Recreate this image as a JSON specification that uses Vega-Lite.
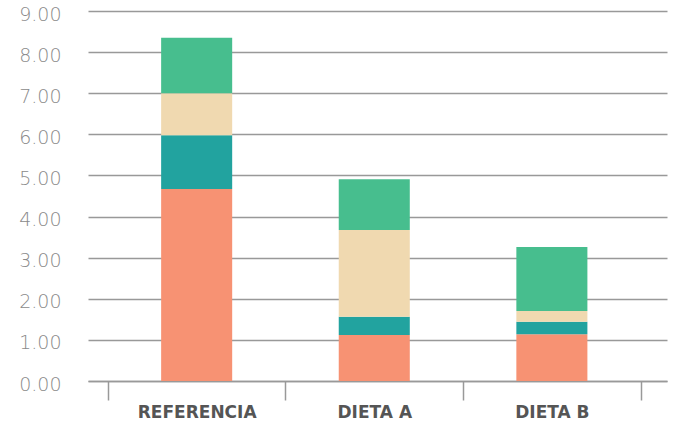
{
  "$schema": "https://vega.github.io/schema/vega-lite/v6.json",
  "autosize": "none",
  "width": 579,
  "height": 370,
  "padding": {"left": 88, "top": 11, "right": 11, "bottom": 43},
  "background": "white",
  "config": {"view": {"stroke": null}},
  "data": {
    "values": [
      {"grupo": "REFERENCIA", "serie": "A", "orden": 1, "valor": 4.67},
      {"grupo": "REFERENCIA", "serie": "B", "orden": 2, "valor": 1.31},
      {"grupo": "REFERENCIA", "serie": "C", "orden": 3, "valor": 1.02},
      {"grupo": "REFERENCIA", "serie": "D", "orden": 4, "valor": 1.35},
      {"grupo": "DIETA A", "serie": "A", "orden": 1, "valor": 1.12},
      {"grupo": "DIETA A", "serie": "B", "orden": 2, "valor": 0.44},
      {"grupo": "DIETA A", "serie": "C", "orden": 3, "valor": 2.11},
      {"grupo": "DIETA A", "serie": "D", "orden": 4, "valor": 1.24},
      {"grupo": "DIETA B", "serie": "A", "orden": 1, "valor": 1.14},
      {"grupo": "DIETA B", "serie": "B", "orden": 2, "valor": 0.30},
      {"grupo": "DIETA B", "serie": "C", "orden": 3, "valor": 0.26},
      {"grupo": "DIETA B", "serie": "D", "orden": 4, "valor": 1.56}
    ]
  },
  "mark": {"type": "bar", "width": {"band": 0.4}},
  "encoding": {
    "x": {
      "field": "grupo",
      "type": "nominal",
      "sort": ["REFERENCIA", "DIETA A", "DIETA B"],
      "scale": {"paddingInner": 0, "paddingOuter": 0.13, "align": 0.43},
      "axis": {
        "title": null,
        "labelAngle": 0,
        "labelFont": "DejaVu Sans",
        "labelFontWeight": "bold",
        "labelFontSize": 17,
        "labelColor": "#555555",
        "labelPadding": 4,
        "domainColor": "#999999",
        "domainWidth": 1.5,
        "tickColor": "#999999",
        "tickWidth": 1.5,
        "tickSize": 19,
        "tickBand": "extent",
        "grid": false
      }
    },
    "y": {
      "field": "valor",
      "type": "quantitative",
      "aggregate": "sum",
      "stack": "zero",
      "scale": {"domain": [0, 9], "nice": false},
      "axis": {
        "title": null,
        "values": [0, 1, 2, 3, 4, 5, 6, 7, 8, 9],
        "format": ".2f",
        "domain": false,
        "ticks": false,
        "labelAlign": "right",
        "labelBaseline": "middle",
        "labelOffset": 3,
        "labelPadding": 27,
        "labelFont": "DejaVu Sans",
        "labelFontSize": 19,
        "labelFontWeight": 200,
        "labelColor": "#8a8a8a",
        "gridColor": "#999999",
        "gridWidth": 1.5
      }
    },
    "color": {
      "field": "serie",
      "type": "nominal",
      "scale": {"domain": ["A", "B", "C", "D"], "range": ["#F79273", "#22A39F", "#F0D9B0", "#47BE8E"]},
      "legend": null
    },
    "order": {"field": "orden", "type": "quantitative"}
  }
}
